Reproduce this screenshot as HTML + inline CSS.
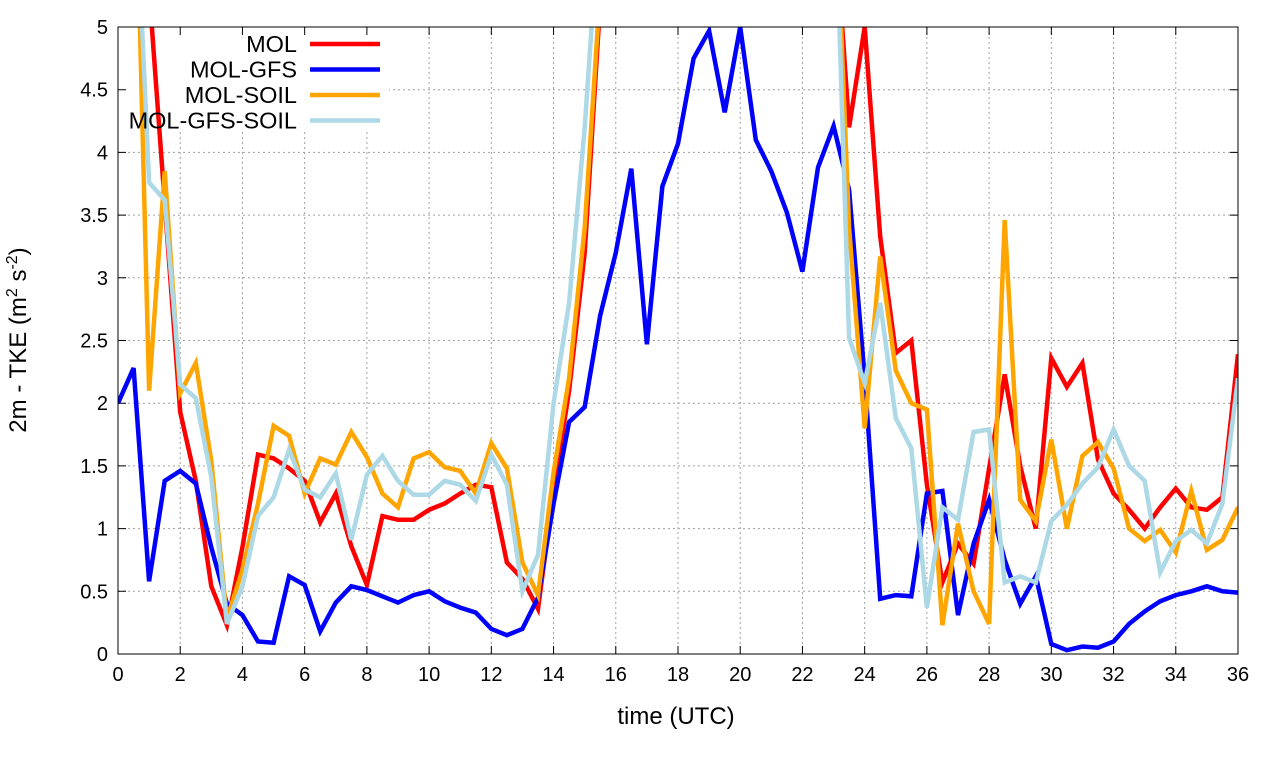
<!DOCTYPE html>
<html><head><meta charset="utf-8"><style>
body{margin:0;background:#fff;}
svg{display:block;font-family:"Liberation Sans",sans-serif;}
</style></head><body>
<svg id="chart" width="1280" height="760" viewBox="0 0 1280 760" xmlns="http://www.w3.org/2000/svg">
<defs><clipPath id="clip"><rect x="118" y="27" width="1120" height="627"/></clipPath></defs>
<g id="grid"></g>
<rect x="119" y="28" width="270" height="104" fill="#fff"/>
<g id="axes"></g>
<g id="series" clip-path="url(#clip)"></g>
<g id="legend"></g>
<rect x="118" y="27" width="1120" height="627" fill="none" stroke="#000" stroke-width="1"/>
<text x="676" y="724" font-size="24" text-anchor="middle">time (UTC)</text>
<text transform="translate(26,340) rotate(-90)" font-size="24" text-anchor="middle">2m - TKE (m<tspan font-size="16" dy="-9">2</tspan><tspan dy="9"> s</tspan><tspan font-size="16" dy="-9">-2</tspan><tspan dy="9">)</tspan></text>
</svg>
<script>
const times = [];
for (let i = 0; i <= 72; i++) times.push(i * 0.5);
const xTicks = [0,2,4,6,8,10,12,14,16,18,20,22,24,26,28,30,32,34,36];
const yTicks = [0,0.5,1,1.5,2,2.5,3,3.5,4,4.5,5];
const yTickLabels = ["0","0.5","1","1.5","2","2.5","3","3.5","4","4.5","5"];
const seriesNames = ["MOL","MOL-GFS","MOL-SOIL","MOL-GFS-SOIL"];
const seriesColors = ["#ff0000","#0000ff","#ffa500","#add8e6"];
const molValues = [9,9,5.3,3.6,1.93,1.38,0.54,0.23,0.85,1.59,1.56,1.48,1.38,1.05,1.28,0.86,0.55,1.1,1.07,1.07,1.15,1.2,1.28,1.35,1.33,0.73,0.6,0.36,1.3,2.1,3.2,5.2,8,8,8,8,8,8,8,8,8,8,8,8,8,8,6,4.2,5.0,3.33,2.4,2.5,1.35,0.57,0.88,0.72,1.48,2.23,1.5,1.0,2.36,2.13,2.32,1.55,1.28,1.15,1.0,1.17,1.32,1.17,1.15,1.25,2.39];
const gfsValues = [2.0,2.28,0.58,1.38,1.46,1.36,0.85,0.4,0.31,0.1,0.09,0.62,0.55,0.18,0.41,0.54,0.51,0.46,0.41,0.47,0.5,0.42,0.37,0.33,0.2,0.15,0.2,0.45,1.2,1.85,1.97,2.7,3.2,3.87,2.47,3.73,4.07,4.75,4.97,4.32,5.0,4.1,3.85,3.52,3.05,3.88,4.21,3.7,2.2,0.44,0.47,0.46,1.28,1.3,0.31,0.88,1.23,0.75,0.4,0.62,0.08,0.03,0.06,0.05,0.1,0.24,0.34,0.42,0.47,0.5,0.54,0.5,0.49];
const soilValues = [9,7,2.1,3.85,2.08,2.32,1.54,0.28,0.67,1.2,1.82,1.74,1.28,1.56,1.51,1.77,1.57,1.28,1.17,1.56,1.61,1.49,1.46,1.28,1.68,1.48,0.73,0.47,1.45,2.2,3.4,5.3,8,8,8,8,8,8,8,8,8,8,8,8,8,8,6.5,3.4,1.8,3.17,2.26,2.0,1.95,0.23,1.04,0.5,0.24,3.46,1.23,1.06,1.71,1.0,1.58,1.69,1.48,1.0,0.9,0.99,0.81,1.3,0.83,0.91,1.17];
const gfsSoilValues = [9,6.5,3.76,3.62,2.15,2.04,1.41,0.24,0.54,1.1,1.25,1.63,1.31,1.25,1.44,0.91,1.43,1.58,1.38,1.27,1.27,1.38,1.35,1.22,1.59,1.35,0.5,0.79,2.0,2.8,4.2,6,8,8,8,8,8,8,8,8,8,8,8,8,8,8,6.5,2.52,2.16,2.8,1.88,1.64,0.37,1.17,1.07,1.77,1.79,0.57,0.62,0.57,1.06,1.19,1.36,1.49,1.79,1.5,1.38,0.65,0.9,0.99,0.88,1.2,2.2];
const allSeries = [molValues,gfsValues,soilValues,gfsSoilValues];

const X0=118,X1=1238,Y0=654,Y1=27;
const xs = t => X0 + (t/36)*(X1-X0);
const ys = v => Y0 - (v/5)*(Y0-Y1);
const NS="http://www.w3.org/2000/svg";
const grid=document.getElementById('grid'), axes=document.getElementById('axes');
function mk(tag,attrs,parent){const e=document.createElementNS(NS,tag);for(const k in attrs)e.setAttribute(k,attrs[k]);parent.appendChild(e);return e;}
xTicks.forEach(t=>{
  const x=xs(t);
  if(t>0&&t<36){const g=mk('line',{x1:x,x2:x,y1:Y1,y2:Y0,stroke:'#a0a0a0','stroke-width':1,'stroke-dasharray':'2,3'},grid);
  
  }
  const tk=mk('path',{d:`M${x},${Y0}v-8M${x},${Y1}v8`,stroke:'#000','stroke-width':1},axes);
  
  
  const lb=mk('text',{x:x,y:Y0+27,'font-size':20,'text-anchor':'middle'},axes);lb.textContent=t;
  
  
});
yTicks.forEach((v,i)=>{
  const y=ys(v);
  if(v>0&&v<5){const g=mk('line',{x1:X0,x2:X1,y1:y,y2:y,stroke:'#a0a0a0','stroke-width':1,'stroke-dasharray':'2,3'},grid);
  
  }
  const tk=mk('path',{d:`M${X0},${y}h8M${X1},${y}h-8`,stroke:'#000','stroke-width':1},axes);
  
  
  const lb=mk('text',{x:X0-10,y:y+7,'font-size':20,'text-anchor':'end'},axes);lb.textContent=yTickLabels[i];
  
  
});
const sg=document.getElementById('series');
allSeries.forEach((vals,si)=>{
  const pts=vals.map((v,i)=>xs(times[i]).toFixed(1)+','+ys(v).toFixed(1)).join(' ');
  const pl=mk('polyline',{points:pts,fill:'none',stroke:seriesColors[si],'stroke-width':4.5,'stroke-linejoin':'miter'},sg);
  
  
});
const lg=document.getElementById('legend');
seriesNames.forEach((n,i)=>{
  const y=44+i*25.5;
  const t=mk('text',{x:297,y:y+8,'font-size':23.5,'text-anchor':'end'},lg);t.textContent=n;
  
  
  const l=mk('line',{x1:310,x2:380,y1:y,y2:y,stroke:seriesColors[i],'stroke-width':4.5},lg);
  
  
});
</script>
</body></html>
